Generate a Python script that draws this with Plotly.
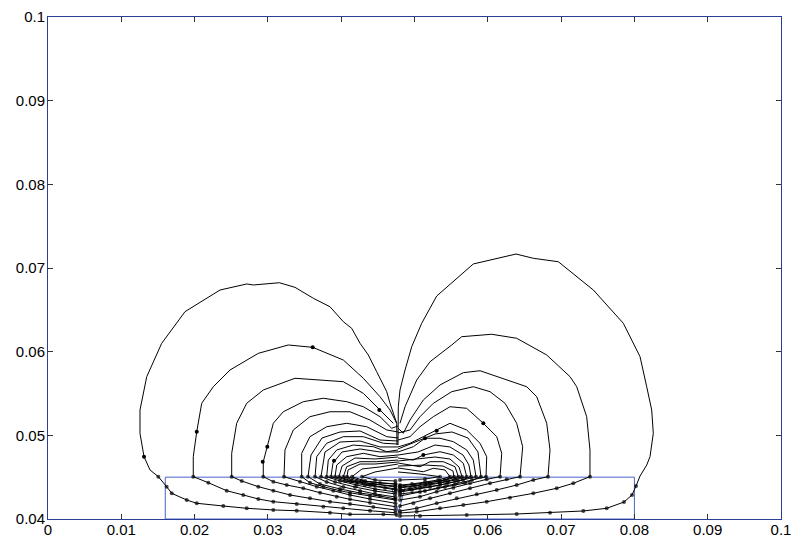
import plotly.graph_objects as go

# ---------------- axes / ticks ----------------
X_TICKS = [0, 0.01, 0.02, 0.03, 0.04, 0.05, 0.06, 0.07, 0.08, 0.09, 0.1]
X_TICK_LABELS = ["0", "0.01", "0.02", "0.03", "0.04", "0.05", "0.06", "0.07", "0.08", "0.09", "0.1"]
Y_TICKS = [0.04, 0.05, 0.06, 0.07, 0.08, 0.09, 0.1]
Y_TICK_LABELS = ["0.04", "0.05", "0.06", "0.07", "0.08", "0.09", "0.1"]

# ---------------- magnet outline ----------------
RECT_X = [0.016, 0.080, 0.080, 0.016, 0.016]
RECT_Y = [0.040, 0.040, 0.045, 0.045, 0.040]
RECT_TOP = 0.045
NOTCH_X = [0.0469, 0.0478, 0.0487]
NOTCH_Y = [0.0437, 0.0408, 0.0437]

# ---------------- field lines, left lobe ----------------
L1_X = [0.04761, 0.04757, 0.04666, 0.04621, 0.04484, 0.04370, 0.04257, 0.04143, 0.04029, 0.03847, 0.03620,
        0.03370, 0.03156, 0.02801, 0.02711, 0.02347, 0.01869, 0.01551, 0.01347, 0.01255, 0.01255,
        0.01310, 0.01392, 0.01505, 0.01619, 0.01688, 0.01892, 0.02029, 0.02392, 0.02711, 0.03074,
        0.03393, 0.03847, 0.04120, 0.04575, 0.04757]
L1_Y = [0.04884, 0.05144, 0.05383, 0.05522, 0.05761, 0.05960, 0.06100, 0.06279, 0.06358, 0.06537, 0.06638,
        0.06769, 0.06824, 0.06797, 0.06809, 0.06737, 0.06478, 0.06100, 0.05701, 0.05303, 0.05024,
        0.04745, 0.04586, 0.04506, 0.04386, 0.04307, 0.04227, 0.04188, 0.04155, 0.04128, 0.04108,
        0.04099, 0.04075, 0.04056, 0.04056, 0.04048]

L2_X = [0.04757, 0.04666, 0.04529, 0.04302, 0.04029, 0.03802, 0.03611, 0.03278, 0.02869, 0.02483,
        0.02255, 0.02097, 0.02029, 0.01982, 0.01982, 0.02187, 0.02438, 0.02664, 0.02869, 0.03074,
        0.03393, 0.03756, 0.04029, 0.04393, 0.04740]
L2_Y = [0.05144, 0.05303, 0.05462, 0.05682, 0.05900, 0.05980, 0.06052, 0.06080, 0.05980, 0.05781,
        0.05581, 0.05383, 0.05043, 0.04745, 0.04506, 0.04434, 0.04338, 0.04287, 0.04239, 0.04207,
        0.04179, 0.04147, 0.04128, 0.04099, 0.04075]

L3_X = [0.04711, 0.04529, 0.04302, 0.04029, 0.03666, 0.03370, 0.02937, 0.02711, 0.02574, 0.02506,
        0.02506, 0.02643, 0.02869, 0.03074, 0.03302, 0.03574, 0.03847, 0.04120, 0.04438, 0.04740]
L3_Y = [0.05144, 0.05303, 0.05502, 0.05641, 0.05661, 0.05682, 0.05542, 0.05383, 0.05144, 0.04785,
        0.04506, 0.04454, 0.04386, 0.04338, 0.04287, 0.04247, 0.04207, 0.04179, 0.04143, 0.04108]

L4_X = [0.04775, 0.04689, 0.04529, 0.04302, 0.04075, 0.03756, 0.03483, 0.03210, 0.03074, 0.02992,
        0.02937, 0.02937, 0.03074, 0.03257, 0.03483, 0.03711, 0.03939, 0.04120, 0.04393, 0.04740]
L4_Y = [0.05112, 0.05084, 0.05223, 0.05342, 0.05402, 0.05443, 0.05402, 0.05282, 0.05144, 0.04864,
        0.04685, 0.04506, 0.04446, 0.04406, 0.04367, 0.04314, 0.04267, 0.04235, 0.04195, 0.04147]

L5_X = [0.04775, 0.04621, 0.04393, 0.04120, 0.03847, 0.03574, 0.03347, 0.03233, 0.03220, 0.03438,
        0.03666, 0.03892, 0.04120, 0.04393, 0.04740]
L5_Y = [0.05040, 0.05064, 0.05183, 0.05282, 0.05282, 0.05223, 0.05064, 0.04825, 0.04506, 0.04446,
        0.04386, 0.04338, 0.04287, 0.04239, 0.04188]

L6_X = [0.04775, 0.04621, 0.04348, 0.04075, 0.03802, 0.03574, 0.03461, 0.03461, 0.03574, 0.03756,
        0.03984, 0.04120, 0.04393, 0.04740]
L6_Y = [0.04968, 0.04984, 0.05103, 0.05144, 0.05103, 0.04984, 0.04785, 0.04506, 0.04434, 0.04386,
        0.04338, 0.04314, 0.04275, 0.04227]

A1_X = [0.04775, 0.04529, 0.04257, 0.03984, 0.03738, 0.03588, 0.03547, 0.03711, 0.03984, 0.04257, 0.04529, 0.04740]
A1_Y = [0.04932, 0.04944, 0.05052, 0.05040, 0.04968, 0.04765, 0.04506, 0.04418, 0.04359, 0.04311, 0.04275, 0.04239]

L7_X = [0.04775, 0.04575, 0.04302, 0.04029, 0.03802, 0.03666, 0.03643, 0.03802, 0.04029, 0.04257,
        0.04461, 0.04740]
L7_Y = [0.04896, 0.04905, 0.04984, 0.04984, 0.04905, 0.04745, 0.04506, 0.04442, 0.04382, 0.04335,
        0.04299, 0.04263]

A2_X = [0.04775, 0.04529, 0.04257, 0.03984, 0.03779, 0.03724, 0.03916, 0.04188, 0.04461, 0.04740]
A2_Y = [0.04861, 0.04861, 0.04932, 0.04920, 0.04801, 0.04506, 0.04442, 0.04382, 0.04335, 0.04299]

L8_X = [0.04775, 0.04621, 0.04438, 0.04165, 0.03939, 0.03824, 0.03802, 0.03984, 0.04212, 0.04461, 0.04740]
L8_Y = [0.04825, 0.04804, 0.04864, 0.04884, 0.04825, 0.04705, 0.04506, 0.04454, 0.04406, 0.04359, 0.04323]

A3_X = [0.04775, 0.04529, 0.04257, 0.04011, 0.03888, 0.03861, 0.04052, 0.04325, 0.04598, 0.04748]
A3_Y = [0.04801, 0.04801, 0.04837, 0.04801, 0.04669, 0.04506, 0.04454, 0.04406, 0.04371, 0.04347]

L9_X = [0.04775, 0.04529, 0.04302, 0.04075, 0.03939, 0.03916, 0.04120, 0.04393, 0.04740]
L9_Y = [0.04765, 0.04745, 0.04785, 0.04745, 0.04645, 0.04506, 0.04454, 0.04406, 0.04359]

A4_X = [0.04775, 0.04461, 0.04188, 0.04011, 0.03970, 0.04147, 0.04420, 0.04740]
A4_Y = [0.04741, 0.04717, 0.04729, 0.04633, 0.04506, 0.04454, 0.04418, 0.04394]

L10_X = [0.04775, 0.04484, 0.04257, 0.04075, 0.04029, 0.04212, 0.04461, 0.04740]
L10_Y = [0.04705, 0.04685, 0.04685, 0.04625, 0.04506, 0.04454, 0.04418, 0.04382]

A5_X = [0.04775, 0.04461, 0.04257, 0.04093, 0.04079, 0.04284, 0.04740]
A5_Y = [0.04681, 0.04657, 0.04657, 0.04586, 0.04506, 0.04454, 0.04418]

L11_X = [0.04775, 0.04529, 0.04284, 0.04147, 0.04325, 0.04529, 0.04740]
L11_Y = [0.04657, 0.04622, 0.04598, 0.04506, 0.04454, 0.04430, 0.04418]

L12_X = [0.04775, 0.04461, 0.04284, 0.04461, 0.04740]
L12_Y = [0.04610, 0.04562, 0.04506, 0.04466, 0.04454]

# ---------------- field lines, right lobe ----------------
R1_X = [0.04775, 0.04779, 0.04802, 0.04871, 0.04962, 0.05098, 0.05303, 0.05802, 0.06385, 0.06621, 0.06962,
        0.07440, 0.07849, 0.08077, 0.08168, 0.08236, 0.08258, 0.08213, 0.08168, 0.08077, 0.08022,
        0.07967, 0.07858, 0.07622, 0.07303, 0.06849, 0.06394, 0.05712, 0.05075, 0.04802]
R1_Y = [0.04884, 0.05342, 0.05542, 0.05781, 0.06059, 0.06339, 0.06665, 0.07048, 0.07167, 0.07116, 0.07075,
        0.06737, 0.06339, 0.05940, 0.05581, 0.05303, 0.05024, 0.04745, 0.04645, 0.04514, 0.04394,
        0.04287, 0.04203, 0.04128, 0.04096, 0.04075, 0.04060, 0.04048, 0.04036, 0.04036]

R2_X = [0.04802, 0.04871, 0.05030, 0.05212, 0.05508, 0.05644, 0.06053, 0.06394, 0.06804, 0.07122,
        0.07213, 0.07349, 0.07394, 0.07394, 0.07167, 0.06940, 0.06621, 0.06303, 0.05985, 0.05666,
        0.05348, 0.05030, 0.04802]
R2_Y = [0.05144, 0.05342, 0.05661, 0.05880, 0.06080, 0.06179, 0.06208, 0.06160, 0.05960, 0.05701,
        0.05581, 0.05223, 0.04825, 0.04506, 0.04427, 0.04367, 0.04307, 0.04255, 0.04207, 0.04167,
        0.04128, 0.04087, 0.04072]

R3_X = [0.04775, 0.04847, 0.04939, 0.05120, 0.05348, 0.05666, 0.05894, 0.06258, 0.06531, 0.06667,
        0.06804, 0.06849, 0.06821, 0.06621, 0.06394, 0.06122, 0.05849, 0.05576, 0.05303, 0.05030, 0.04802]
R3_Y = [0.05088, 0.05024, 0.05183, 0.05422, 0.05602, 0.05749, 0.05772, 0.05661, 0.05581, 0.05462,
        0.05144, 0.04825, 0.04506, 0.04466, 0.04406, 0.04347, 0.04295, 0.04247, 0.04188, 0.04128, 0.04096]

R4_X = [0.04775, 0.04939, 0.05075, 0.05257, 0.05508, 0.05802, 0.06030, 0.06235, 0.06394, 0.06476,
        0.06440, 0.06258, 0.06030, 0.05757, 0.05484, 0.05212, 0.04984, 0.04802]
R4_Y = [0.05028, 0.05064, 0.05223, 0.05383, 0.05522, 0.05581, 0.05522, 0.05383, 0.05144, 0.04864,
        0.04506, 0.04474, 0.04427, 0.04367, 0.04307, 0.04247, 0.04188, 0.04155]

R5_X = [0.04775, 0.04939, 0.05075, 0.05257, 0.05484, 0.05712, 0.05939, 0.06122, 0.06190, 0.06167,
        0.05985, 0.05757, 0.05530, 0.05303, 0.05075, 0.04802]
R5_Y = [0.04944, 0.04984, 0.05103, 0.05223, 0.05342, 0.05323, 0.05144, 0.04984, 0.04785, 0.04506,
        0.04474, 0.04427, 0.04374, 0.04326, 0.04267, 0.04227]

R6_X = [0.04775, 0.04939, 0.05120, 0.05303, 0.05484, 0.05712, 0.05894, 0.05985, 0.05976, 0.05785,
        0.05553, 0.05321, 0.05075, 0.04802]
R6_Y = [0.04861, 0.04905, 0.04984, 0.05064, 0.05144, 0.05064, 0.04905, 0.04745, 0.04506, 0.04466,
        0.04418, 0.04371, 0.04323, 0.04275]

B1_X = [0.04775, 0.05007, 0.05280, 0.05512, 0.05730, 0.05866, 0.05907, 0.05689, 0.05416, 0.05143, 0.04802]
B1_Y = [0.04837, 0.04920, 0.05016, 0.05040, 0.04968, 0.04801, 0.04506, 0.04430, 0.04382, 0.04335, 0.04299]

R7_X = [0.04775, 0.04984, 0.05143, 0.05348, 0.05530, 0.05712, 0.05802, 0.05839, 0.05662, 0.05444,
        0.05212, 0.04966, 0.04802]
R7_Y = [0.04801, 0.04864, 0.04965, 0.04965, 0.04924, 0.04825, 0.04705, 0.04506, 0.04466, 0.04424,
        0.04382, 0.04347, 0.04323]

B2_X = [0.04775, 0.05048, 0.05280, 0.05484, 0.05662, 0.05743, 0.05771, 0.05593, 0.05348, 0.05075, 0.04802]
B2_Y = [0.04765, 0.04801, 0.04884, 0.04861, 0.04765, 0.04645, 0.04506, 0.04454, 0.04406, 0.04371, 0.04335]

R8_X = [0.04775, 0.04984, 0.05120, 0.05348, 0.05530, 0.05666, 0.05712, 0.05553, 0.05348, 0.05143,
        0.04939, 0.04802]
R8_Y = [0.04729, 0.04705, 0.04765, 0.04804, 0.04765, 0.04666, 0.04506, 0.04466, 0.04430, 0.04394,
        0.04365, 0.04347]

B3_X = [0.04775, 0.05048, 0.05280, 0.05484, 0.05607, 0.05648, 0.05457, 0.05212, 0.04802]
B3_Y = [0.04693, 0.04717, 0.04741, 0.04717, 0.04622, 0.04506, 0.04454, 0.04418, 0.04371]

R9_X = [0.04775, 0.05075, 0.05212, 0.05393, 0.05553, 0.05598, 0.05416, 0.05212, 0.05007, 0.04802]
R9_Y = [0.04669, 0.04625, 0.04685, 0.04685, 0.04625, 0.04506, 0.04466, 0.04430, 0.04400, 0.04382]

B4_X = [0.04775, 0.05143, 0.05389, 0.05525, 0.05539, 0.05348, 0.04802]
B4_Y = [0.04633, 0.04645, 0.04633, 0.04574, 0.04506, 0.04454, 0.04394]

R10_X = [0.04775, 0.05120, 0.05257, 0.05416, 0.05484, 0.05321, 0.05143, 0.04966, 0.04802]
R10_Y = [0.04610, 0.04565, 0.04606, 0.04586, 0.04506, 0.04466, 0.04442, 0.04418, 0.04406]

R11_X = [0.04775, 0.05075, 0.05348, 0.05143, 0.04802]
R11_Y = [0.04562, 0.04538, 0.04506, 0.04478, 0.04466]

# isolated sample dots visible on the lines outside the magnet
DOTS_X = [0.01310, 0.02029, 0.03611, 0.02992, 0.02929, 0.04520, 0.03902, 0.05939, 0.05303, 0.05143, 0.05120]
DOTS_Y = [0.04745, 0.05043, 0.06052, 0.04864, 0.04685, 0.05303, 0.04697, 0.05144, 0.05055, 0.04965, 0.04765]

FIELD_LINES = [
    (L1_X, L1_Y), (L2_X, L2_Y), (L3_X, L3_Y), (L4_X, L4_Y), (L5_X, L5_Y), (L6_X, L6_Y),
    (A1_X, A1_Y), (L7_X, L7_Y), (A2_X, A2_Y), (L8_X, L8_Y), (A3_X, A3_Y), (L9_X, L9_Y),
    (A4_X, A4_Y), (L10_X, L10_Y), (A5_X, A5_Y), (L11_X, L11_Y), (L12_X, L12_Y),
    (R1_X, R1_Y), (R2_X, R2_Y), (R3_X, R3_Y), (R4_X, R4_Y), (R5_X, R5_Y), (R6_X, R6_Y),
    (B1_X, B1_Y), (R7_X, R7_Y), (B2_X, B2_Y), (R8_X, R8_Y), (B3_X, B3_Y), (R9_X, R9_Y),
    (B4_X, B4_Y), (R10_X, R10_Y), (R11_X, R11_Y),
]

FRAME_COLOR = "#2b3f96"
RECT_COLOR = "#4a64c8"
FONT = "Liberation Sans, Arial, sans-serif"

fig = go.Figure()

fig.add_trace(go.Scatter(x=RECT_X, y=RECT_Y, mode="lines",
                         line=dict(color=RECT_COLOR, width=1), hoverinfo="skip"))
fig.add_trace(go.Scatter(x=NOTCH_X, y=NOTCH_Y, mode="lines",
                         line=dict(color=RECT_COLOR, width=1), hoverinfo="skip"))

for xs, ys in FIELD_LINES:
    sizes = [4 if y <= RECT_TOP + 0.0001 else 0 for y in ys]
    fig.add_trace(go.Scatter(x=xs, y=ys, mode="lines+markers",
                             line=dict(color="black", width=1),
                             marker=dict(color="black", size=sizes, line=dict(width=0)),
                             hoverinfo="skip"))

fig.add_trace(go.Scatter(x=DOTS_X, y=DOTS_Y, mode="markers",
                         marker=dict(color="black", size=4), hoverinfo="skip"))

axis_common = dict(
    showgrid=False, zeroline=False, showline=True, mirror="ticks",
    linecolor=FRAME_COLOR, linewidth=1, automargin=False,
    ticks="inside", ticklen=5, tickcolor="#333333", tickwidth=1,
    tickfont=dict(family=FONT, size=15, color="black"),
    ticklabeloverflow="allow",
)

# page body margin removed (see post_script); figure a bit wider than the window so
# the right-most tick label is not cut by the figure's own edge
fig.update_layout(
    width=800, height=539,
    margin=dict(l=48, r=19, t=17, b=20),
    paper_bgcolor="white", plot_bgcolor="white",
    showlegend=False,
    xaxis=dict(range=[0, 0.1], tickvals=X_TICKS, ticktext=X_TICK_LABELS,
               ticklabelstandoff=-3, **axis_common),
    yaxis=dict(range=[0.04, 0.1], tickvals=Y_TICKS, ticktext=Y_TICK_LABELS,
               ticklabelstandoff=-1, **axis_common),
)

fig.write_html(
    "out.html",
    config={"displayModeBar": False},
    post_script="document.body.style.margin='0';document.body.style.overflow='hidden';",
)
